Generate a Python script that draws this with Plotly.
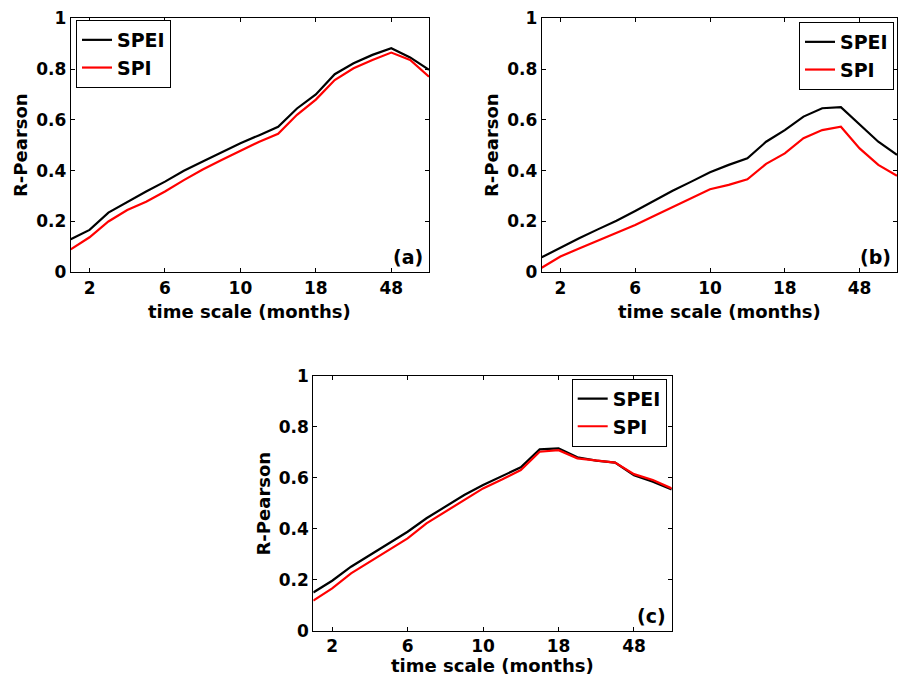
import plotly.graph_objects as go

W, H = 898, 678

# ---- data ----
time_index = list(range(1, 21))
tick_index = [2, 6, 10, 14, 18]
tick_labels = ["2", "6", "10", "18", "48"]
y_ticks = [0, 0.2, 0.4, 0.6, 0.8, 1.0]
y_tick_labels = ["0", "0.2", "0.4", "0.6", "0.8", "1"]

a_spei = [0.13, 0.167, 0.235, 0.278, 0.318, 0.357, 0.40, 0.436, 0.472, 0.508,
          0.54, 0.573, 0.645, 0.70, 0.78, 0.823, 0.856, 0.882, 0.846, 0.797]
a_spi = [0.09, 0.138, 0.20, 0.245, 0.278, 0.318, 0.363, 0.405, 0.442, 0.479,
         0.514, 0.545, 0.62, 0.68, 0.757, 0.803, 0.836, 0.865, 0.836, 0.77]

b_spei = [0.059, 0.098, 0.134, 0.169, 0.203, 0.241, 0.282, 0.321, 0.357, 0.394,
          0.423, 0.449, 0.514, 0.56, 0.613, 0.646, 0.65, 0.58, 0.514, 0.462]
b_spi = [0.018, 0.062, 0.094, 0.125, 0.154, 0.186, 0.222, 0.256, 0.291, 0.327,
         0.344, 0.366, 0.427, 0.468, 0.528, 0.56, 0.573, 0.488, 0.423, 0.38]

c_spei = [0.150, 0.196, 0.251, 0.297, 0.340, 0.388, 0.441, 0.486, 0.532, 0.571,
          0.607, 0.641, 0.711, 0.715, 0.680, 0.667, 0.659, 0.610, 0.584, 0.554]
c_spi = [0.118, 0.166, 0.225, 0.271, 0.314, 0.362, 0.421, 0.467, 0.512, 0.558,
         0.593, 0.630, 0.702, 0.708, 0.676, 0.667, 0.659, 0.614, 0.591, 0.558]

panels = [
    ("(a)", a_spei, a_spi),
    ("(b)", b_spei, b_spi),
    ("(c)", c_spei, c_spi),
]

# pixel boxes of the three axes: (left, right, top, bottom)
boxes = [
    (70.7, 429.0, 18.3, 272.3),
    (541.7, 897.0, 18.3, 272.3),
    (313.3, 671.7, 375.7, 630.7),
]
# gap between axis bottom and the centre of the x-axis title
title_gap = [39, 39, 35]
legend_pos = [
    dict(x=76 / W, y=1 - 20 / H, xanchor="left", yanchor="top"),
    dict(x=894 / W, y=1 - 22 / H, xanchor="right", yanchor="top"),
    dict(x=666.7 / W, y=1 - 378.7 / H, xanchor="right", yanchor="top"),
]

FONT = "DejaVu Sans"
fig = go.Figure()
layout = dict(
    template="none",
    width=W, height=H, autosize=False,
    margin=dict(l=0, r=0, t=0, b=0, pad=0, autoexpand=False),
    paper_bgcolor="white", plot_bgcolor="white",
    font=dict(family=FONT, color="black", size=17, weight="bold"),
    annotations=[],
    showlegend=True,
)

for k, (label, spei, spi) in enumerate(panels):
    n = "" if k == 0 else str(k + 1)
    xa, ya = "x" + n, "y" + n
    leg = "legend" + n
    fig.add_trace(go.Scatter(x=time_index, y=spei, mode="lines", name="SPEI",
                             line=dict(color="black", width=2.2),
                             xaxis=xa, yaxis=ya, legend=leg))
    fig.add_trace(go.Scatter(x=time_index, y=spi, mode="lines", name="SPI",
                             line=dict(color="#ff0000", width=2.2),
                             xaxis=xa, yaxis=ya, legend=leg))
    l, r, t, b = boxes[k]
    common = dict(showline=True, linecolor="black", linewidth=1, mirror="ticks",
                  ticks="inside", ticklen=4, tickwidth=1, tickcolor="black",
                  showgrid=False, zeroline=False, automargin=False,
                  tickfont=dict(family=FONT, size=17, color="black", weight="bold"))
    layout["xaxis" + n] = dict(domain=[l / W, r / W], range=[1, 20],
                               tickmode="array", tickvals=tick_index,
                               ticktext=tick_labels, anchor=ya, **common)
    layout["yaxis" + n] = dict(domain=[1 - b / H, 1 - t / H], range=[0, 1],
                               tickmode="array", tickvals=y_ticks,
                               ticktext=y_tick_labels, anchor=xa, **common)
    layout[leg] = dict(**legend_pos[k], bgcolor="white", bordercolor="black",
                       borderwidth=1,
                       font=dict(family=FONT, size=19, color="black", weight="bold"),
                       tracegroupgap=0)
    # axis titles
    layout["annotations"].append(dict(
        text="time scale (months)", xref="paper", yref="paper",
        x=(l + r) / 2 / W, y=1 - (b + title_gap[k]) / H, xanchor="center",
        yanchor="middle", showarrow=False,
        font=dict(family=FONT, size=18, color="black", weight="bold")))
    layout["annotations"].append(dict(
        text="R-Pearson", xref="paper", yref="paper", textangle=-90,
        x=(l - 50) / W, y=1 - (t + b) / 2 / H, xanchor="center", yanchor="middle",
        showarrow=False, font=dict(family=FONT, size=18, color="black", weight="bold")))
    # panel label
    layout["annotations"].append(dict(
        text=label, xref="paper", yref="paper",
        x=(r - 4) / W, y=1 - (b - 2) / H, xanchor="right", yanchor="bottom",
        showarrow=False, font=dict(family=FONT, size=19, color="black", weight="bold")))

fig.update_layout(**layout)
fig.write_html("out.html",
               config={"displayModeBar": False},
               post_script="document.body.style.margin='0';document.body.style.overflow='hidden';")
